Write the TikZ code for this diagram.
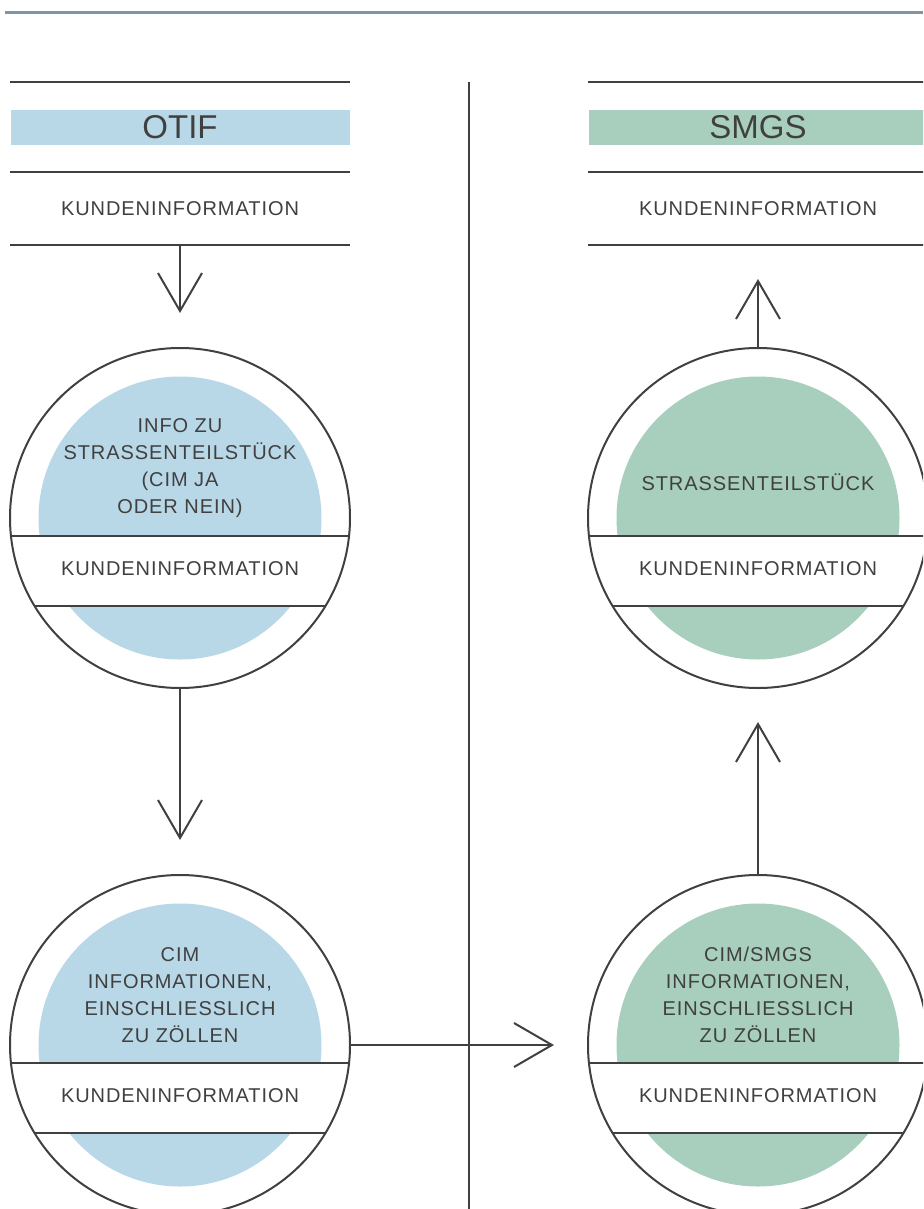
\documentclass[tikz,border=0pt]{standalone}
\usepackage{fontspec}
\setmainfont{Liberation Sans}
\newfontfamily\spacedfont[LetterSpace=4.7]{Liberation Sans}
\usetikzlibrary{
    arrows.meta,
    positioning,
    calc
}
\definecolor{otifblue}{HTML}{B9D8E7}
\definecolor{smgsgreen}{HTML}{A8CFBD}
\definecolor{inkgray}{HTML}{404040}
\definecolor{rulegray}{HTML}{7F94A4}
\tikzset{
    title/.style = {
        rectangle,
        minimum width=339pt,
        minimum height=35pt,
        inner sep=0pt,
        text=inkgray,
        font=\fontsize{33}{33}\selectfont
    },
    capstext/.style = {
        inner sep=0pt,
        align=center,
        text=inkgray,
        font=\spacedfont\fontsize{20}{27}\selectfont
    },
    rule/.style = {
        draw=inkgray,
        line width=2pt
    },
    ring/.style = {
        circle,
        draw=inkgray,
        line width=2pt,
        minimum size=340pt,
        inner sep=0pt
    },
    arrow/.style = {
        draw=inkgray,
        line width=2pt,
        -{Straight Barb[length=38pt,width=44pt]}
    }
}
% coloured disc with white band, drawn under the ring
\newcommand{\discbase}[2]{%
    \fill[#2] (#1) circle[radius=141.5pt];
    \begin{scope}
        \clip (#1) circle[radius=170pt];
        \fill[white] ($(#1)+(-170,18)$) rectangle ($(#1)+(170,88)$);
        \draw[rule] ($(#1)+(-170,18)$) -- ++(340,0);
        \draw[rule] ($(#1)+(-170,88)$) -- ++(340,0);
    \end{scope}
}

\begin{document}
\begin{tikzpicture}[x=1pt,y=-1pt]
\clip (0,0) rectangle (923,1209);
\draw[rulegray, line width=3pt] (5,12.5) -- (923,12.5);
\draw[rule] (469,82) -- (469,1209);

% OTIF side
\node[title, fill=otifblue] (otif) at (180,127.5) {OTIF};
\node[capstext, minimum width=339pt, minimum height=73pt] (otifkunde) at (180,208.5) {KUNDENINFORMATION};
\draw[rule] ($(otif.north west)+(0,-28)$) -- ($(otif.north east)+(0,-28)$);
\draw[rule] (otifkunde.north west) -- (otifkunde.north east);
\draw[rule] (otifkunde.south west) -- (otifkunde.south east);

\coordinate (roadc) at (180,518);
\discbase{roadc}{otifblue}
\node[ring] (road) at (roadc) {};
\node[capstext] (roadkunde) at ($(road)+(0,51)$) {KUNDENINFORMATION};
\node[capstext] (roadinfo) at ($(road)+(0,-49.5)$) {INFO ZU\\STRASSENTEILSTÜCK\\(CIM JA\\ODER NEIN)};

\coordinate (cimc) at (180,1045);
\discbase{cimc}{otifblue}
\node[ring] (cimdata) at (cimc) {};
\node[capstext] (cimkunde) at ($(cimdata)+(0,51)$) {KUNDENINFORMATION};
\node[capstext] (ciminfo) at ($(cimdata)+(0,-50)$) {CIM\\INFORMATIONEN,\\EINSCHLIESSLICH\\ZU ZÖLLEN};

% SMGS side
\node[title, fill=smgsgreen] (smgs) at (758,127.5) {SMGS};
\node[capstext, minimum width=339pt, minimum height=73pt] (smgskunde) at (758,208.5) {KUNDENINFORMATION};
\draw[rule] ($(smgs.north west)+(0,-28)$) -- ($(smgs.north east)+(0,-28)$);
\draw[rule] (smgskunde.north west) -- (smgskunde.north east);
\draw[rule] (smgskunde.south west) -- (smgskunde.south east);

\coordinate (smgsroadc) at (758,518);
\discbase{smgsroadc}{smgsgreen}
\node[ring] (smgsroad) at (smgsroadc) {};
\node[capstext] (smgsroadkunde) at ($(smgsroad)+(0,51)$) {KUNDENINFORMATION};
\node[capstext] (smgsroadinfo) at ($(smgsroad)+(0,-36)$) {STRASSENTEILSTÜCK};

\coordinate (smgsc) at (758,1045);
\discbase{smgsc}{smgsgreen}
\node[ring] (smgsdata) at (smgsc) {};
\node[capstext] (smgsdatakunde) at ($(smgsdata)+(0,51)$) {KUNDENINFORMATION};
\node[capstext] (smgsdatainfo) at ($(smgsdata)+(0,-50)$) {CIM/SMGS\\INFORMATIONEN,\\EINSCHLIESSLICH\\ZU ZÖLLEN};

% arrows
\coordinate (tipa) at (180,313);
\coordinate (tipb) at (180,840);
\coordinate (tipc) at (554,1045);
\coordinate (tipd) at (758,722);
\coordinate (tipe) at (758,279);
\draw[arrow] (otifkunde.south) -- (tipa);
\draw[arrow] (road.south) -- (tipb);
\draw[arrow] (cimdata.east) -- (tipc);
\draw[arrow] (smgsdata.north) -- (tipd);
\draw[arrow] (smgsroad.north) -- (tipe);
\end{tikzpicture}
\end{document}
